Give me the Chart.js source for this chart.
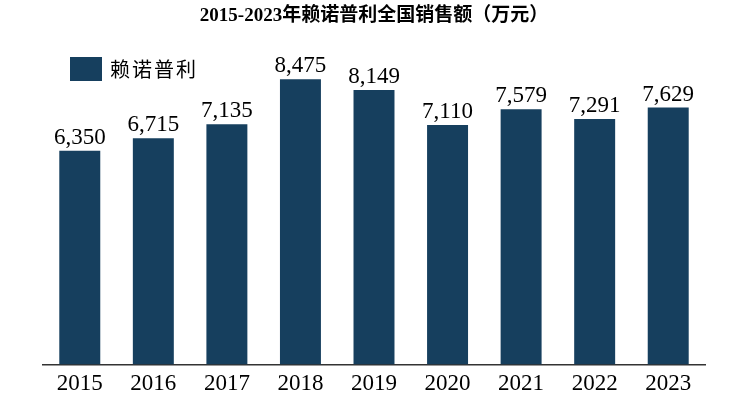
<!DOCTYPE html>
<html>
<head>
<meta charset="utf-8">
<script src="https://cdn.jsdelivr.net/npm/chart.js@4"></script>
<style>
  html, body { margin: 0; padding: 0; background: #fff; }
  #wrap { width: 751px; height: 415px; }
</style>
</head>
<body>
<div id="wrap"><canvas id="myChart"></canvas></div>
<script>
var years = ['2015', '2016', '2017', '2018', '2019', '2020', '2021', '2022', '2023'];
var sales = [6350, 6715, 7135, 8475, 8149, 7110, 7579, 7291, 7629]; // 万元
var seriesName = '赖诺普利';
var titleText = '2015-2023年赖诺普利全国销售额（万元）';

var barColor = '#163F5E';
var serif = '"Liberation Serif", "Times New Roman", "Noto Sans CJK SC", serif';

// value labels on top of the bars
var valueLabels = {
  id: 'valueLabels',
  afterDatasetsDraw: function (chart) {
    var ctx = chart.ctx;
    var meta = chart.getDatasetMeta(0);
    ctx.save();
    ctx.font = '23px ' + serif;
    ctx.fillStyle = '#000';
    ctx.textAlign = 'center';
    ctx.textBaseline = 'alphabetic';
    meta.data.forEach(function (bar, i) {
      ctx.fillText(sales[i].toLocaleString('en-US'), bar.x, bar.y - 7);
    });
    ctx.restore();
  }
};

// legend box in the upper left corner
var cornerLegend = {
  id: 'cornerLegend',
  afterDraw: function (chart) {
    var ctx = chart.ctx;
    ctx.save();
    ctx.fillStyle = barColor;
    ctx.fillRect(70, 57, 32, 24);
    ctx.fillStyle = '#000';
    ctx.font = '20px "Noto Sans CJK SC", sans-serif';
    ctx.letterSpacing = '2px';
    ctx.textBaseline = 'middle';
    ctx.textAlign = 'left';
    ctx.fillText(seriesName, 110, 69);
    ctx.restore();
  }
};

var ctx = document.getElementById('myChart').getContext('2d');

var myChart = new Chart(ctx, {
  type: 'bar',
  data: {
    labels: years,
    datasets: [{
      label: seriesName,
      data: sales,
      backgroundColor: barColor,
      borderWidth: 0,
      categoryPercentage: 1,
      barPercentage: 0.557
    }]
  },
  options: {
    responsive: true,
    maintainAspectRatio: false,
    animation: false,
    layout: {
      padding: { left: 43, right: 46, top: 0, bottom: 11 }
    },
    plugins: {
      legend: { display: false },
      tooltip: { enabled: false },
      title: {
        display: true,
        text: titleText,
        color: '#000',
        font: { family: serif, size: 19, weight: 'bold' },
        padding: { top: 5, bottom: 0 }
      }
    },
    scales: {
      x: {
        grid: { display: false, drawTicks: false },
        border: { display: true, color: '#333', width: 1.5 },
        ticks: {
          color: '#000',
          padding: 6,
          font: { family: serif, size: 23 }
        }
      },
      y: {
        display: false,
        min: 0,
        max: 10000
      }
    }
  },
  plugins: [valueLabels, cornerLegend]
});
</script>
</body>
</html>
